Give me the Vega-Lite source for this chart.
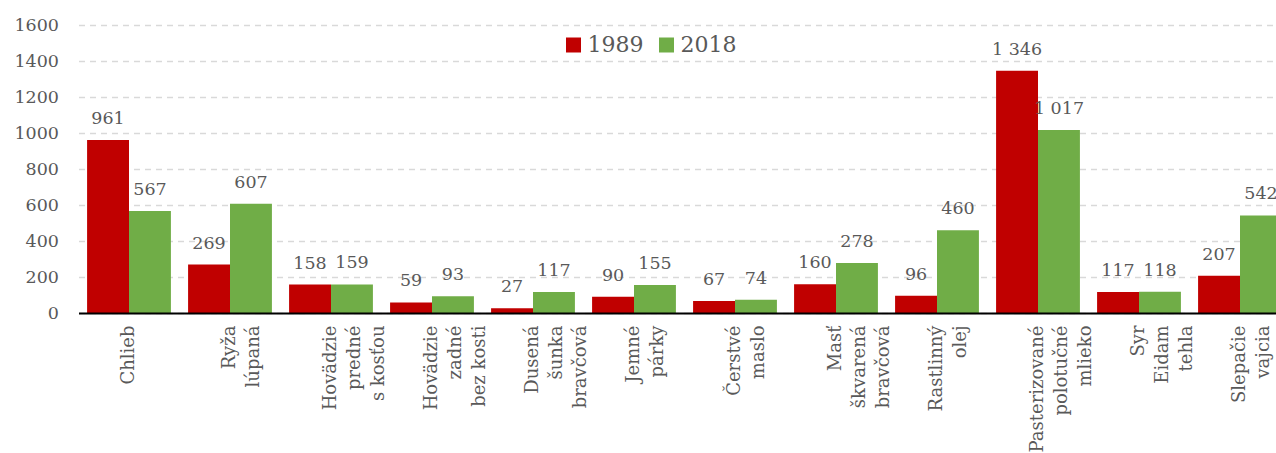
{
  "$schema": "https://vega.github.io/schema/vega-lite/v6.json",
  "autosize": {"type": "none"},
  "width": 1197.5,
  "height": 288,
  "padding": {"left": 78.5, "top": 25, "right": 0, "bottom": 140},
  "background": "white",
  "config": {
    "view": {"stroke": null},
    "font": "DejaVu Serif",
    "axis": {"labelFont": "DejaVu Serif", "labelColor": "#595959"}
  },
  "data": {
    "values": [
      {"cat": "Chlieb", "year": "1989", "value": 961},
      {"cat": "Chlieb", "year": "2018", "value": 567},
      {"cat": "Ryža|lúpaná", "year": "1989", "value": 269},
      {"cat": "Ryža|lúpaná", "year": "2018", "value": 607},
      {"cat": "Hovädzie|predné|s kosťou", "year": "1989", "value": 158},
      {"cat": "Hovädzie|predné|s kosťou", "year": "2018", "value": 159},
      {"cat": "Hovädzie|zadné|bez kosti", "year": "1989", "value": 59},
      {"cat": "Hovädzie|zadné|bez kosti", "year": "2018", "value": 93},
      {"cat": "Dusená|šunka|bravčová", "year": "1989", "value": 27},
      {"cat": "Dusená|šunka|bravčová", "year": "2018", "value": 117},
      {"cat": "Jemné|párky", "year": "1989", "value": 90},
      {"cat": "Jemné|párky", "year": "2018", "value": 155},
      {"cat": "Čerstvé|maslo", "year": "1989", "value": 67},
      {"cat": "Čerstvé|maslo", "year": "2018", "value": 74},
      {"cat": "Masť|škvarená|bravčová", "year": "1989", "value": 160},
      {"cat": "Masť|škvarená|bravčová", "year": "2018", "value": 278},
      {"cat": "Rastlinný|olej", "year": "1989", "value": 96},
      {"cat": "Rastlinný|olej", "year": "2018", "value": 460},
      {"cat": "Pasterizované|polotučné|mlieko", "year": "1989", "value": 1346},
      {"cat": "Pasterizované|polotučné|mlieko", "year": "2018", "value": 1017},
      {"cat": "Syr|Eidam|tehla", "year": "1989", "value": 117},
      {"cat": "Syr|Eidam|tehla", "year": "2018", "value": 118},
      {"cat": "Slepačie|vajcia", "year": "1989", "value": 207},
      {"cat": "Slepačie|vajcia", "year": "2018", "value": 542}
    ]
  },
  "transform": [
    {"calculate": "replace(format(datum.value, ','), ',', ' ')", "as": "label"},
    {"calculate": "split(datum.cat, '|')", "as": "parts"},
    {"calculate": "max(length(datum.parts[0]), length(datum.parts[1] || ''), length(datum.parts[2] || ''))", "as": "mx"},
    {"calculate": "pad(datum.parts[0], length(datum.parts[0]) + round((datum.mx - length(datum.parts[0])) * 0.865), '\u00a0')", "as": "p0"},
    {"calculate": "length(datum.parts) > 1 ? '|' + pad(datum.parts[1], length(datum.parts[1]) + round((datum.mx - length(datum.parts[1])) * 0.865), '\u00a0') : ''", "as": "p1"},
    {"calculate": "length(datum.parts) > 2 ? '|' + pad(datum.parts[2], length(datum.parts[2]) + round((datum.mx - length(datum.parts[2])) * 0.865), '\u00a0') : ''", "as": "p2"},
    {"calculate": "datum.p0 + datum.p1 + datum.p2", "as": "xlab"}
  ],
  "encoding": {
    "x": {
      "field": "xlab",
      "type": "nominal",
      "sort": null,
      "scale": {"range": [0, 1212], "paddingInner": 0.17, "paddingOuter": 0.085},
      "axis": {
        "title": null,
        "labelAngle": -90,
        "labelAlign": "right",
        "labelBaseline": "middle",
        "labelFontSize": 18,
        "labelLineHeight": 24,
        "labelPadding": 12,
        "labelLimit": 300,
        "labelExpr": "split(datum.label, '|')",
        "ticks": false,
        "domainColor": "#000000",
        "domainWidth": 2,
        "zindex": 1
      }
    },
    "xOffset": {"field": "year", "type": "nominal"},
    "y": {
      "field": "value",
      "type": "quantitative",
      "scale": {"domain": [0, 1600], "nice": false},
      "axis": {
        "title": null,
        "values": [0, 200, 400, 600, 800, 1000, 1200, 1400, 1600],
        "format": "d",
        "labelFontSize": 17.5,
        "labelPadding": 20,
        "domain": false,
        "ticks": false,
        "grid": true,
        "gridColor": "#D9D9D9",
        "gridDash": [6, 5],
        "gridWidth": 1.5
      }
    }
  },
  "layer": [
    {
      "mark": {"type": "bar"},
      "encoding": {
        "color": {
          "field": "year",
          "type": "nominal",
          "scale": {"domain": ["1989", "2018"], "range": ["#C00000", "#70AD47"]},
          "legend": {
            "title": null,
            "orient": "none",
            "direction": "horizontal",
            "legendX": 484,
            "legendY": 9,
            "symbolType": "square",
            "symbolSize": 225,
            "symbolStrokeWidth": 0,
            "labelFont": "DejaVu Serif",
            "labelFontSize": 22,
            "labelColor": "#595959",
            "labelOffset": 3,
            "columnPadding": 12,
            "padding": 0
          }
        }
      }
    },
    {
      "mark": {"type": "text", "baseline": "alphabetic", "dy": -16, "fontSize": 17.5, "color": "#595959", "font": "DejaVu Serif"},
      "encoding": {"text": {"field": "label"}}
    }
  ]
}
